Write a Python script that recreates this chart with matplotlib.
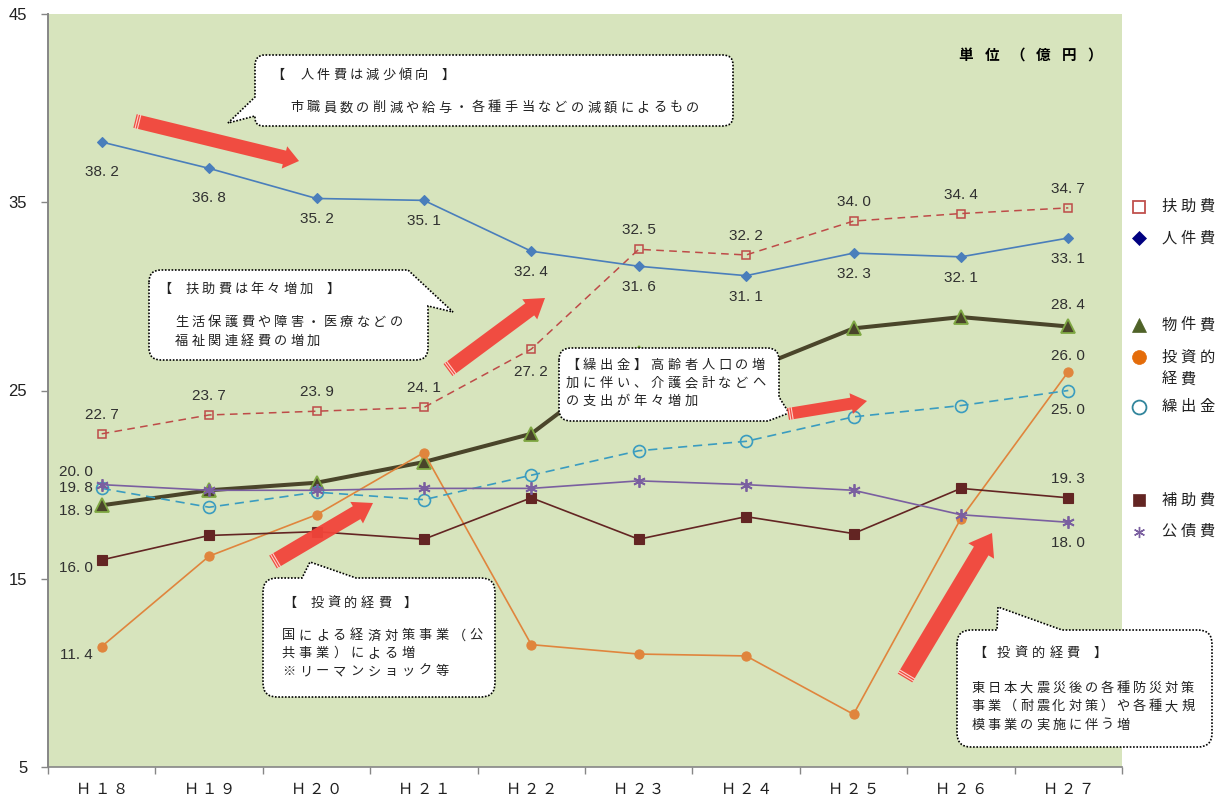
import matplotlib
matplotlib.use("Agg")
import matplotlib.pyplot as plt
import matplotlib.transforms as mtransforms
from matplotlib.path import Path
from matplotlib.patches import PathPatch, Polygon
from matplotlib.lines import Line2D
import numpy as np

# ---------------- data (億円) ----------------
years = ["Ｈ１８", "Ｈ１９", "Ｈ２０", "Ｈ２１", "Ｈ２２",
         "Ｈ２３", "Ｈ２４", "Ｈ２５", "Ｈ２６", "Ｈ２７"]
fujo = [22.7, 23.7, 23.9, 24.1, 27.2, 32.5, 32.2, 34.0, 34.4, 34.7]        # 扶助費
jinken = [38.2, 36.8, 35.2, 35.1, 32.4, 31.6, 31.1, 32.3, 32.1, 33.1]      # 人件費
bukken = [18.9, 19.7, 20.1, 21.2, 22.7, 27.0, 26.0, 28.3, 28.9, 28.4]      # 物件費
toshi = [11.4, 16.2, 18.4, 21.7, 11.5, 11.0, 10.9, 7.8, 18.2, 26.0]        # 投資的経費
kuridashi = [19.8, 18.8, 19.6, 19.2, 20.5, 21.8, 22.3, 23.6, 24.2, 25.0]   # 繰出金
hojo = [16.0, 17.3, 17.5, 17.1, 19.3, 17.1, 18.3, 17.4, 19.8, 19.3]        # 補助費
kosai = [20.0, 19.7, 19.7, 19.8, 19.8, 20.2, 20.0, 19.7, 18.4, 18.0]       # 公債費
yticks = [5, 15, 25, 35, 45]

JP = "Noto Sans CJK JP"
NARROW = ["Liberation Sans Narrow", "Liberation Sans", "DejaVu Sans"]
W, H = 1226, 802

fig = plt.figure(figsize=(W / 100, H / 100), dpi=100)
ax = fig.add_axes([48 / W, 1 - 767 / H, (1122 - 48) / W, (767 - 14) / H])
ax.set_facecolor("#D7E4BD")
# pixel transform, origin at top-left of the figure
pix = mtransforms.Affine2D().scale(1 / W, -1 / H).translate(0, 1) + fig.transFigure
PT = 0.72  # points per pixel at 100 dpi

x = np.arange(len(years))

series = [
    dict(name="扶助費", y=fujo, color="#BE4B48", lw=1.1, ls=(0, (5, 3.5)),
         marker="s", ms=6.2, mfc="none", mec="#BE4B48", mew=1.1, z=4),
    dict(name="人件費", y=jinken, color="#4A7EBB", lw=1.2, ls="-",
         marker="D", ms=5.6, mfc="#4A7EBB", mec="#4A7EBB", mew=0.8, z=4),
    dict(name="物件費", y=bukken, color="#4A452A", lw=2.9, ls="-",
         marker="^", ms=10, mfc="#4A452A", mec="#7FA843", mew=1.3, z=3),
    dict(name="投資的経費", y=toshi, color="#E0853D", lw=1.2, ls="-",
         marker="o", ms=6.6, mfc="#E0853D", mec="#E0853D", mew=0.8, z=3),
    dict(name="繰出金", y=kuridashi, color="#3A9CC0", lw=1.2, ls=(0, (5.5, 3.5)),
         marker="o", ms=8.6, mfc="none", mec="#3A9CC0", mew=1.2, z=3),
    dict(name="補助費", y=hojo, color="#632523", lw=1.2, ls="-",
         marker="s", ms=7, mfc="#632523", mec="#632523", mew=0.8, z=3),
    dict(name="公債費", y=kosai, color="#7A5FA0", lw=1.2, ls="-",
         marker=(6, 2, 0), ms=9, mfc="#7A5FA0", mec="#7A5FA0", mew=1.3, z=3),
]

for s in series:
    ax.plot(x, s["y"], color=s["color"], lw=s["lw"], linestyle=s["ls"],
            marker=s["marker"], ms=s["ms"], mfc=s["mfc"], mec=s["mec"],
            mew=s["mew"], zorder=s["z"], clip_on=False)

# value label placement (pixel offsets: right, down)
label_place = {
    "人件費": {i: (0, 30 if i < 2 else 21) for i in range(10)},
    "扶助費": {i: ((0, 23) if i == 4 else (0, -19)) for i in range(10)},
    "物件費": {0: (-26, 6), 9: (0, -21)},
    "投資的経費": {0: (-25, 8), 9: (0, -16)},
    "繰出金": {0: (-26, 0), 9: (0, 20)},
    "補助費": {0: (-26, 8), 9: (0, -19)},
    "公債費": {0: (-26, -13), 9: (0, 21)},
}
for s in series:
    for i, (dx, dy) in label_place[s["name"]].items():
        v = s["y"][i]
        ax.annotate(f"{v:.1f}".replace(".", ". "), (x[i], v),
                    xytext=(dx * PT, -dy * PT), textcoords="offset points",
                    ha="center", va="center", fontsize=11, family=NARROW,
                    color="#303030", zorder=5, annotation_clip=False)

# axes styling
ax.set_xlim(-0.5, len(years) - 0.5)
ax.set_ylim(5, 45)
ax.set_yticks(yticks)
ax.set_yticklabels([str(t) for t in yticks], family=NARROW, fontsize=12, color="#202020")
ax.set_xticks(np.arange(-0.5, len(years), 1))
ax.set_xticklabels([])
ax.tick_params(axis="y", length=5, width=1, color="#868686", pad=10)
ax.tick_params(axis="x", length=5, width=1, color="#868686")
for side in ("top", "right"):
    ax.spines[side].set_visible(False)
ax.spines["left"].set_color("#868686")
ax.spines["left"].set_linewidth(1.4)
ax.spines["bottom"].set_color("#868686")
ax.spines["bottom"].set_linewidth(1.2)

# category labels with wide letter spacing
for i, lab in enumerate(years):
    n = len(lab)
    for j, ch in enumerate(lab):
        tr = mtransforms.offset_copy(ax.get_xaxis_transform(), fig=fig,
                                     x=(j - (n - 1) / 2) * 18 * PT, y=-22 * PT,
                                     units="points")
        ax.text(i, 0, ch, transform=tr, ha="center", va="center",
                family=JP, fontsize=11, color="#202020", clip_on=False)


def spaced(x0, y0, s, pitch, **kw):
    for k, ch in enumerate(s):
        if ch == "　":
            continue
        fig.text(x0 + k * pitch, y0, ch, transform=pix, ha="center", va="center", **kw)


def rounded_poly(pts, radii):
    P = [np.array(p, float) for p in pts]
    verts, codes = [], []
    n = len(P)
    for i in range(n):
        v, r = P[i], radii[i]
        if r == 0:
            verts.append(v)
            codes.append(Path.LINETO)
        else:
            a = v + (P[i - 1] - v) / np.linalg.norm(P[i - 1] - v) * r
            b = v + (P[(i + 1) % n] - v) / np.linalg.norm(P[(i + 1) % n] - v) * r
            verts += [a, v, b]
            codes += [Path.LINETO, Path.CURVE3, Path.CURVE3]
    codes[0] = Path.MOVETO
    verts.append(verts[0])
    codes.append(Path.CLOSEPOLY)
    return Path(verts, codes)


def bubble(pts, radii):
    fig.add_artist(PathPatch(rounded_poly(pts, radii), transform=pix,
                             facecolor="white", edgecolor="black", lw=1.2,
                             linestyle=(0, (1, 1)), zorder=6))


def red_arrow(tail, tip, w, hw, hl):
    t, p = np.array(tail, float), np.array(tip, float)
    u = (p - t) / np.linalg.norm(p - t)
    nrm = np.array([-u[1], u[0]])
    base = p - u * hl
    poly = [t + nrm * w / 2, base + nrm * w / 2, base + nrm * hw / 2, p,
            base - nrm * hw / 2, base - nrm * w / 2, t - nrm * w / 2]
    fig.add_artist(Polygon(poly, closed=True, transform=pix, facecolor="#F2443A",
                           edgecolor="none", alpha=0.95, zorder=7))
    for d in (1.8, 4.2):
        a = t + u * d + nrm * w / 2
        b = t + u * d - nrm * w / 2
        fig.add_artist(Line2D([a[0], b[0]], [a[1], b[1]], transform=pix,
                              color="#FFD0C8", lw=0.8, zorder=8))


# callouts
txt = dict(family=JP, fontsize=9.5, color="#222222", zorder=9)

bubble([(255, 55), (733, 55), (733, 126), (255, 126), (255, 116), (228, 123), (255, 97)],
       [10, 10, 10, 8, 0, 0, 0])
spaced(278, 75, "【", 16.4, **txt)
spaced(306.7, 75, "人件費は減少傾向", 16.4, **txt)
spaced(448, 75, "】", 16.4, **txt)
spaced(296.7, 108, "市職員数の削減や給与・各種手当などの減額によるもの", 16.5, **txt)

bubble([(149, 270), (408, 270), (453, 312), (428, 306), (428, 360), (149, 360)],
       [12, 0, 0, 0, 12, 12])
spaced(164.5, 289.3, "【", 16.4, **txt)
spaced(191.7, 289.3, "扶助費は年々増加", 16.4, **txt)
spaced(333, 289.3, "】", 16.4, **txt)
spaced(181.7, 322.3, "生活保護費や障害・医療などの", 16.5, **txt)
spaced(181.7, 341.7, "福祉関連経費の増加", 16.5, **txt)

bubble([(559, 348), (779, 348), (779, 397), (789, 413), (768, 421), (559, 421)],
       [12, 12, 0, 0, 0, 12])
spaced(572.5, 365, "【繰出金】高齢者人口の増", 16.9, **txt)
spaced(572.5, 383.3, "加に伴い、介護会計などへ", 16.9, **txt)
spaced(572.5, 401.7, "の支出が年々増加", 16.9, **txt)

bubble([(263, 578), (302, 578), (310, 562), (356, 578), (495, 578), (495, 697), (263, 697)],
       [14, 0, 0, 0, 14, 14, 14])
spaced(290, 603.3, "【", 17, **txt)
spaced(316.7, 603.3, "投資的経費", 17, **txt)
spaced(410, 603.3, "】", 17, **txt)
spaced(288.3, 636, "国による経済対策事業（公", 17.1, **txt)
spaced(288.3, 653.3, "共事業）による増", 17.1, **txt)
spaced(288.3, 671.7, "※リーマンショック等", 17.1, **txt)

bubble([(957, 630), (997, 630), (998, 607), (1062, 630), (1212, 630), (1212, 747), (957, 747)],
       [14, 0, 0, 0, 14, 14, 14])
spaced(980, 653.3, "【", 17.5, **txt)
spaced(1003.3, 653.3, "投資的経費", 17.5, **txt)
spaced(1100, 653.3, "】", 17.5, **txt)
spaced(978.3, 688.3, "東日本大震災後の各種防災対策", 16.1, **txt)
spaced(978.3, 706.7, "事業（耐震化対策）や各種大規", 16.1, **txt)
spaced(978.3, 725, "模事業の実施に伴う増", 16.1, **txt)

# trend arrows
red_arrow((135, 121), (299, 161), 14, 23, 15)
red_arrow((448, 370), (545, 298), 15, 25, 19)
red_arrow((273, 562), (373, 503), 15, 25, 19)
red_arrow((788, 414), (867, 401), 12, 21, 16)
red_arrow((905, 678), (992, 533), 17, 30, 21)

# unit label
spaced(966, 55, "単位（億円）", 25.8, family=JP, fontsize=10.5, weight="bold",
       color="black")

# legend
legend_items = [
    ("扶助費", 206.7, dict(marker="s", ms=8.6, mfc="none", mec="#C0504D", mew=1.3)),
    ("人件費", 238.3, dict(marker="D", ms=7.2, mfc="#000080", mec="#000080", mew=0.5)),
    ("物件費", 325, dict(marker="^", ms=10.5, mfc="#4F6228", mec="#4F6228", mew=0.5)),
    ("投資的", 357, dict(marker="o", ms=10, mfc="#E46C0A", mec="#E46C0A", mew=0.5)),
    ("経費", 379, None),
    ("繰出金", 406.7, dict(marker="o", ms=10, mfc="none", mec="#31859C", mew=1.3)),
    ("補助費", 500, dict(marker="s", ms=8.4, mfc="#632523", mec="#632523", mew=0.5)),
    ("公債費", 531.7, dict(marker=(6, 2, 0), ms=8, mfc="#7A5FA0", mec="#7A5FA0", mew=1.0)),
]
for label, ly, mk in legend_items:
    if mk is not None:
        fig.add_artist(Line2D([1139], [ly], transform=pix, linestyle="none", **mk))
    spaced(1169, ly, label, 19, family=JP, fontsize=11, color="#202020")

fig.savefig("out.png", dpi=100)
